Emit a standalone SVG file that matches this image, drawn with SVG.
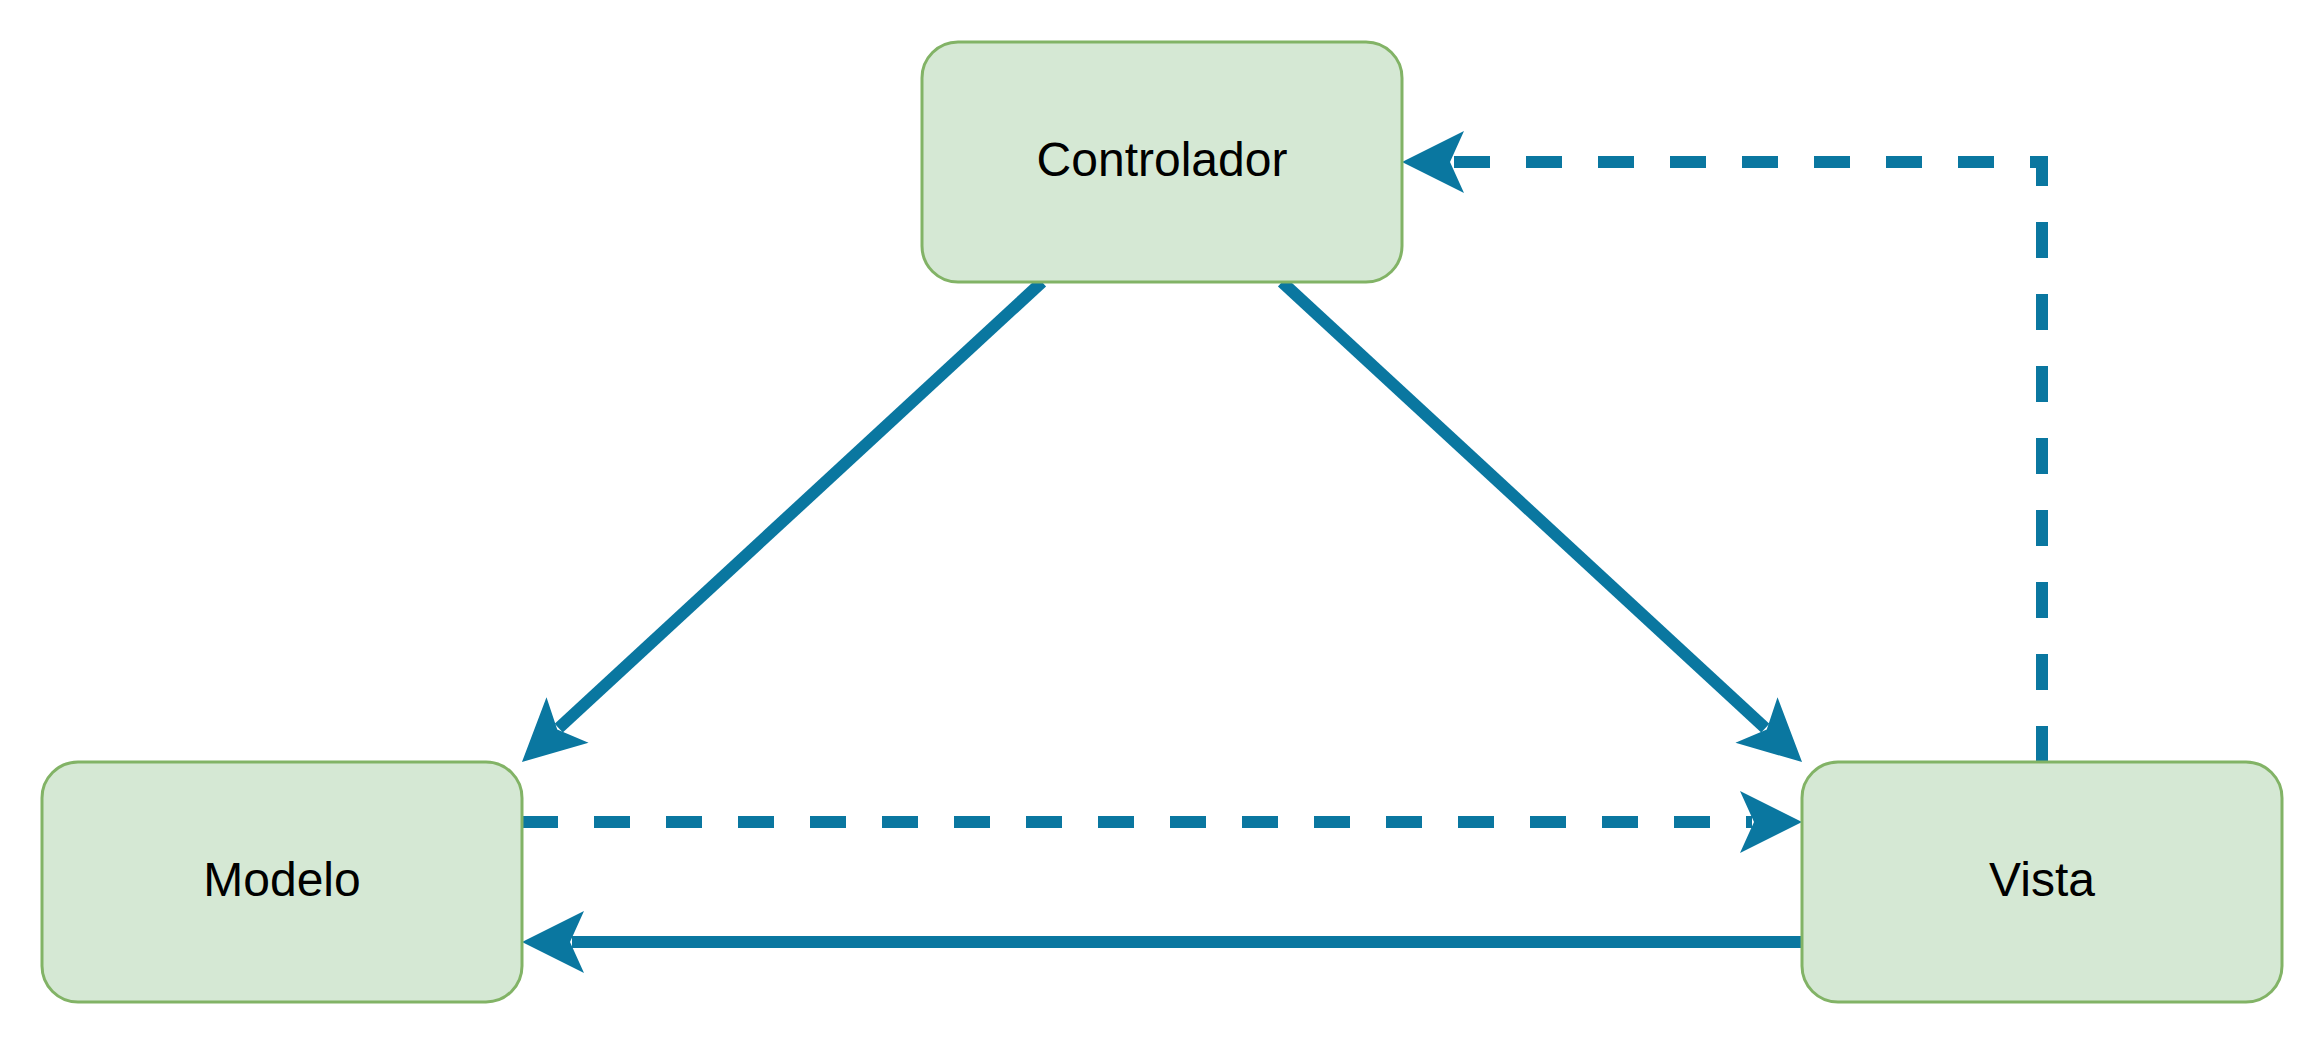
<svg xmlns="http://www.w3.org/2000/svg" width="2324" height="1044" viewBox="0 0 2324 1044">
  <style>
    .node rect { fill: #d5e8d4; stroke: #82b366; stroke-width: 3; }
    .node text { font-family: "Liberation Sans", Arial, Helvetica, sans-serif; font-size: 48px; fill: #000000; text-anchor: middle; }
    .edge { fill: none; stroke: #0a77a0; stroke-width: 12; stroke-linecap: butt; stroke-linejoin: miter; marker-end: url(#arrow); }
    .dashed { stroke-dasharray: 36 36; }
  </style>
  <defs>
    <marker id="arrow" markerUnits="userSpaceOnUse" viewBox="0 -32 64 64" markerWidth="64" markerHeight="64" refX="12" refY="0" orient="auto" overflow="visible">
      <path d="M 62 0 L 0 -31 L 14 0 L 0 31 Z" fill="#0a77a0" stroke="none"/>
    </marker>
  </defs>
  <rect x="0" y="0" width="2324" height="1044" fill="#ffffff"/>
  <g id="connectors">
    <path class="edge" d="M 1042 282 L 558.7 728.1"/>
    <path class="edge" d="M 1282 282 L 1765.3 728.1"/>
    <path class="edge dashed" d="M 522 822 L 1752 822"/>
    <path class="edge" d="M 1802 942 L 572 942"/>
    <path class="edge dashed" d="M 2042 762 L 2042 162 L 1452 162"/>
  </g>
  <g id="controlador" class="node">
    <rect x="922" y="42" width="480" height="240" rx="36" ry="36"/>
    <text x="1162" y="176">Controlador</text>
  </g>
  <g id="modelo" class="node">
    <rect x="42" y="762" width="480" height="240" rx="36" ry="36"/>
    <text x="282" y="896">Modelo</text>
  </g>
  <g id="vista" class="node">
    <rect x="1802" y="762" width="480" height="240" rx="36" ry="36"/>
    <text x="2042" y="896">Vista</text>
  </g>
</svg>
